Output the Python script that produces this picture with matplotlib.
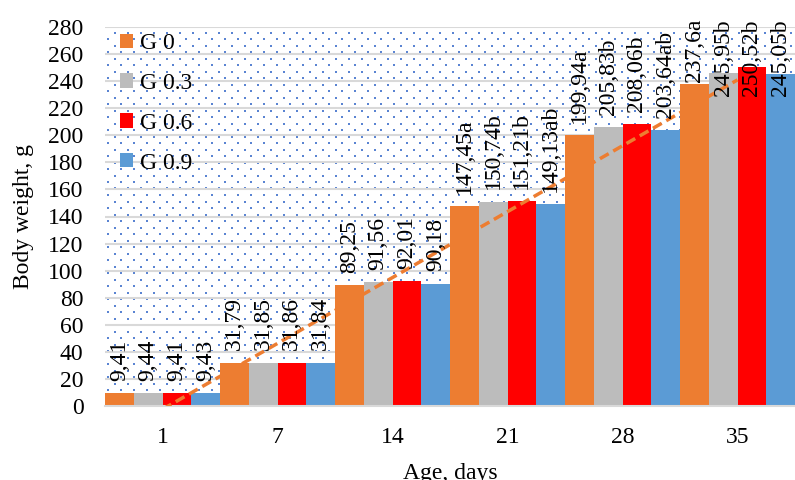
import numpy as np
import matplotlib.pyplot as plt

plt.rcParams['font.family'] = ['Liberation Serif', 'DejaVu Serif']

ages = ['1', '7', '14', '21', '28', '35']
groups = ['G 0', 'G 0.3', 'G 0.6', 'G 0.9']
colors = ['#ed7d31', '#bcbcbc', '#ff0000', '#5b9bd5']

g0 = [9.41, 31.79, 89.25, 147.45, 199.94, 237.6]
g03 = [9.44, 31.85, 91.56, 150.74, 205.83, 245.95]
g06 = [9.41, 31.86, 92.01, 151.21, 208.06, 250.52]
g09 = [9.43, 31.84, 90.18, 149.13, 203.64, 245.05]

labels_g0 = ['9,41', '31,79', '89,25', '147,45a', '199,94a', '237,6a']
labels_g03 = ['9,44', '31,85', '91,56', '150,74b', '205,83b', '245,95b']
labels_g06 = ['9,41', '31,86', '92,01', '151,21b', '208,06b', '250,52b']
labels_g09 = ['9,43', '31,84', '90,18', '149,13ab', '203,64ab', '245,05b']

series = [g0, g03, g06, g09]
series_labels = [labels_g0, labels_g03, labels_g06, labels_g09]

W, H, DPI = 795, 480, 100
fig = plt.figure(figsize=(W / DPI, H / DPI), dpi=DPI)
ax = fig.add_axes([105 / W, (H - 406) / H, 690 / W, 379 / H])

x = np.arange(1, len(ages) + 1)
width = 0.25

# dotted background fill
px_w, px_h = 690, 379
xs, ys = [], []
row = 0
yy = 3.0
while yy < px_h:
    start = 3.0 if row % 2 == 0 else 9.5
    xx = start
    while xx < px_w:
        xs.append(xx / px_w)
        ys.append(yy / px_h)
        xx += 13
    yy += 6.5
    row += 1
ax.scatter(xs, ys, s=1.0, marker='s', color='#5a84d2', linewidths=0,
           transform=ax.transAxes, zorder=0)

ax.set_axisbelow(True)
ax.yaxis.grid(True, color='#d9d9d9', linewidth=1.5, zorder=1)

annotations = []
for i, (vals, labs, c, name) in enumerate(zip(series, series_labels, colors, groups)):
    pos = x - 0.5 + width * (i + 0.5)
    ax.bar(pos, vals, width=width, color=c, label=name, zorder=2)
    for p, v, t in zip(pos, vals, labs):
        a = ax.annotate(t, (p, v), xytext=(0, 9), textcoords='offset points',
                        rotation=90, ha='center', va='bottom', fontsize=17,
                        zorder=5, annotation_clip=False)
        annotations.append(a)

# linear trend of G 0
coef = np.polyfit(x, g0, 1)
ax.plot(x, np.polyval(coef, x), linestyle=(0, (2.9, 1.5)), color='#ed7d31',
        linewidth=2.5, zorder=4)

ax.set_xlim(0.5, len(ages) + 0.5)
ax.set_ylim(0, 280)
ax.set_yticks(np.arange(0, 281, 20))
ax.set_xticks(x)
ax.set_xticklabels(ages)
ax.tick_params(axis='both', length=0, labelsize=17)
ax.tick_params(axis='y', pad=15.5)
ax.tick_params(axis='x', pad=15)

for s in ['top', 'right', 'left']:
    ax.spines[s].set_visible(False)
ax.spines['bottom'].set_color('#d9d9d9')
ax.spines['bottom'].set_linewidth(1.5)

ax.set_ylabel('Body weight, g', fontsize=17, labelpad=10)
ax.set_xlabel('Age, days', fontsize=17, labelpad=11)

leg = ax.legend(loc='upper left', frameon=False, fontsize=17,
                handlelength=0.55, handleheight=0.55, handletextpad=0.28,
                labelspacing=0.8, bbox_to_anchor=(15 / 690, 1 - 6 / 379),
                borderaxespad=0, borderpad=0)

# keep labels inside the chart area
fig.canvas.draw()
limit = H - 19
for a in annotations:
    bb = a.get_window_extent()
    excess = bb.y1 - limit
    if excess > 0:
        a.xyann = (0, 9 - excess * 72 / DPI)

fig.savefig('out.png', dpi=DPI)
